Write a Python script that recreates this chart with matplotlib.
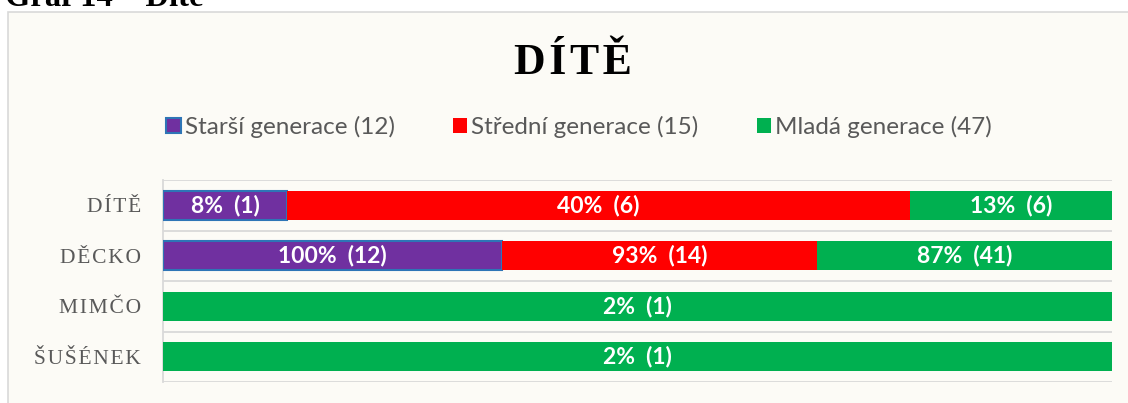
import matplotlib.pyplot as plt
import matplotlib.patches as mpatches
import numpy as np

categories = ['DÍTĚ', 'DĚCKO', 'MIMČO', 'ŠUŠÉNEK']
series = ['Starší generace (12)', 'Střední generace (15)', 'Mladá generace (47)']
# percentages per generation and absolute counts
pct = [[8, 100, 0, 0],
       [40, 93, 0, 0],
       [13, 87, 2, 2]]
counts = [[1, 12, 0, 0],
          [6, 14, 0, 0],
          [6, 41, 1, 1]]
colors = ['#7030A0', '#FF0000', '#00B050']
edges = ['#2E75B6', '#FF0000', '#00B050']

bg = '#FCFBF6'
grey = '#595959'
hair = '\u200a'

fig = plt.figure(figsize=(11.28, 4.03), dpi=100)
fig.patch.set_facecolor('white')
frame = mpatches.Rectangle((8 / 1128, -0.05), 1.1, 1 - 12 / 403 + 0.05, transform=fig.transFigure,
                           facecolor=bg, edgecolor='#D9D9D9', lw=1.2, zorder=-5)
fig.patches.append(frame)

fig.text(5 / 1128, 1 - 6 / 403, 'Graf 14 – Dítě', family='Liberation Serif', weight='bold',
         fontsize=23.5, va='baseline', ha='left', color='black')

fig.text(573 / 1128, 1 - 58 / 403, hair.join('DÍTĚ'), family='Liberation Serif', weight='bold',
         fontsize=31.5, ha='center', va='center_baseline', color='black')

ax = fig.add_axes([163 / 1128, 1 - 382 / 403, (1112 - 163) / 1128, (382 - 180) / 403])
ax.set_facecolor('none')
ax.set_zorder(2)

p = np.array(pct, dtype=float)
tot = p.sum(axis=0)
frac = p / tot
y = np.arange(len(categories))
left = np.zeros(len(categories))
handles = []
for i in range(len(series)):
    b = ax.barh(y, frac[i], left=left, height=0.57, color=colors[i], edgecolor=edges[i],
                linewidth=1.5 if i == 0 else 0, label=series[i], zorder=3)
    handles.append(b)
    for j in range(len(categories)):
        if pct[i][j] > 0:
            ax.text(left[j] + frac[i][j] / 2, y[j], f'{pct[i][j]}%  ({counts[i][j]})',
                    ha='center', va='center', color='white', fontsize=16.5,
                    family='Lato', weight='bold', zorder=4)
    left += frac[i]

ax.set_xlim(0, 1)
ax.set_ylim(len(categories) - 0.5, -0.5)
ax.set_xticks([])
ax.set_yticks(y)
ax.set_yticklabels([hair.join(c) for c in categories], family='Liberation Serif',
                   fontsize=15.5, color=grey)
ax.tick_params(axis='y', length=0, pad=16)
for yy in np.arange(-0.5, len(categories), 1.0):
    ax.axhline(yy, color='#D9D9D9', lw=1.3, zorder=1)
for s in ['top', 'right', 'bottom']:
    ax.spines[s].set_visible(False)
ax.spines['left'].set_color('#D9D9D9')
ax.spines['left'].set_linewidth(1.3)

leg = fig.legend(handles=handles, loc='center', bbox_to_anchor=(579 / 1128, 1 - 127 / 403), ncol=3,
                 frameon=False, prop={'family': 'Lato', 'size': 17.5}, handlelength=0.6,
                 handleheight=0.6, handletextpad=0.15, columnspacing=2.4, labelcolor=grey)

fig.savefig('out.png', dpi=100, facecolor='white')
